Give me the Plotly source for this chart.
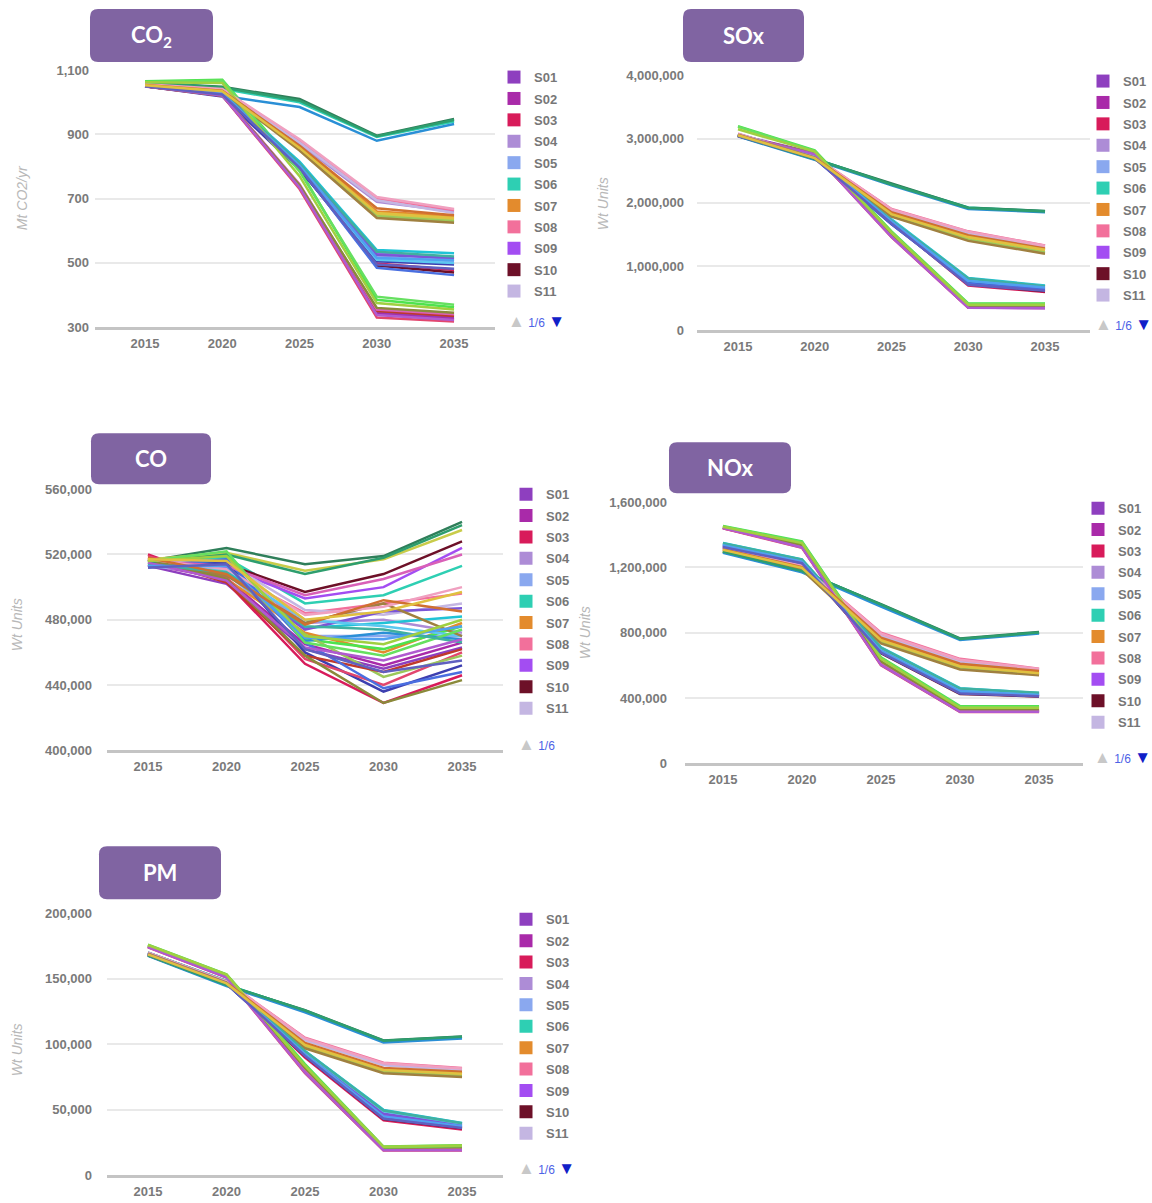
import plotly.graph_objects as go

W, H = 1152, 1203

YEARS = [2015, 2020, 2025, 2030, 2035]

SCENARIOS = ["S01", "S02", "S03", "S04", "S05", "S06", "S07", "S08", "S09", "S10",
             "S11", "S12", "S13", "S14", "S15", "S16", "S17", "S18", "S19", "S20",
             "S21", "S22", "S23", "S24", "S25", "S26", "S27", "S28", "S29", "S30",
             "S31", "S32", "S33", "S34", "S35", "S36"]

LEGEND_NAMES = ["S01", "S02", "S03", "S04", "S05", "S06", "S07", "S08", "S09", "S10", "S11"]

CO2_VALUES = [
    [1052, 1025, 740, 345, 330],
    [1050, 1022, 735, 340, 325],
    [1054, 1030, 800, 498, 478],
    [1055, 1038, 870, 690, 660],
    [1053, 1028, 805, 520, 505],
    [1052, 1042, 1000, 892, 940],
    [1054, 1036, 862, 660, 645],
    [1056, 1040, 880, 700, 665],
    [1052, 1032, 812, 530, 512],
    [1051, 1026, 795, 492, 470],
    [1055, 1037, 875, 695, 655],
    [1060, 1048, 1010, 896, 948],
    [1065, 1070, 790, 385, 362],
    [1050, 1020, 985, 880, 932],
    [1050, 1018, 790, 505, 495],
    [1053, 1034, 855, 650, 635],
    [1049, 1020, 730, 330, 318],
    [1052, 1030, 815, 540, 530],
    [1053, 1031, 808, 525, 515],
    [1054, 1035, 858, 645, 630],
    [1050, 1022, 738, 350, 335],
    [1051, 1029, 802, 510, 500],
    [1052, 1033, 850, 640, 625],
    [1050, 1025, 798, 485, 462],
    [1051, 1023, 745, 355, 340],
    [1062, 1046, 1005, 894, 945],
    [1050, 1021, 742, 360, 345],
    [1063, 1068, 785, 395, 370],
    [1052, 1029, 810, 535, 520],
    [1056, 1041, 885, 705, 668],
    [1050, 1021, 735, 338, 322],
    [1051, 1027, 803, 515, 508],
    [1062, 1060, 770, 375, 355],
    [1054, 1036, 865, 670, 648],
    [1050, 1024, 796, 495, 482],
    [1053, 1034, 858, 655, 640],
]

SOX_VALUES = [
    [3060000, 2780000, 1480000, 360000, 350000],
    [3055000, 2770000, 1470000, 355000, 345000],
    [3065000, 2720000, 1690000, 700000, 600000],
    [3075000, 2700000, 1880000, 1530000, 1320000],
    [3070000, 2710000, 1720000, 800000, 680000],
    [3050000, 2690000, 2290000, 1925000, 1865000],
    [3065000, 2705000, 1830000, 1470000, 1270000],
    [3080000, 2720000, 1900000, 1550000, 1330000],
    [3060000, 2715000, 1700000, 760000, 650000],
    [3055000, 2705000, 1680000, 720000, 610000],
    [3070000, 2710000, 1870000, 1520000, 1300000],
    [3045000, 2680000, 2300000, 1920000, 1870000],
    [3200000, 2820000, 1550000, 420000, 420000],
    [3040000, 2670000, 2270000, 1900000, 1850000],
    [3050000, 2690000, 1660000, 740000, 640000],
    [3060000, 2700000, 1800000, 1450000, 1250000],
    [3050000, 2760000, 1460000, 350000, 350000],
    [3075000, 2725000, 1740000, 820000, 700000],
    [3060000, 2715000, 1710000, 780000, 660000],
    [3055000, 2695000, 1790000, 1420000, 1220000],
    [3045000, 2750000, 1500000, 370000, 360000],
    [3065000, 2720000, 1730000, 790000, 690000],
    [3050000, 2690000, 1780000, 1400000, 1200000],
    [3045000, 2700000, 1670000, 730000, 630000],
    [3055000, 2765000, 1490000, 365000, 355000],
    [3048000, 2685000, 2285000, 1915000, 1860000],
    [3050000, 2770000, 1510000, 380000, 370000],
    [3190000, 2810000, 1540000, 410000, 410000],
    [3068000, 2718000, 1725000, 810000, 690000],
    [3078000, 2718000, 1895000, 1545000, 1325000],
    [3050000, 2760000, 1465000, 352000, 348000],
    [3060000, 2712000, 1705000, 770000, 670000],
    [3150000, 2800000, 1530000, 400000, 400000],
    [3065000, 2705000, 1850000, 1490000, 1280000],
    [3050000, 2700000, 1675000, 710000, 620000],
    [3058000, 2698000, 1820000, 1460000, 1260000],
]

CO_VALUES = [
    [513000, 502000, 462000, 450000, 463000],
    [514000, 505000, 465000, 452000, 466000],
    [520000, 503000, 453000, 429000, 446000],
    [515000, 512000, 478000, 480000, 472000],
    [513000, 508000, 470000, 470000, 470000],
    [516000, 518000, 490000, 495000, 513000],
    [517000, 505000, 472000, 460000, 478000],
    [518000, 510000, 484000, 490000, 496000],
    [514000, 512000, 493000, 500000, 524000],
    [515000, 514000, 497000, 508000, 528000],
    [516000, 515000, 486000, 483000, 490000],
    [516000, 524000, 514000, 519000, 540000],
    [515000, 521000, 468000, 462000, 476000],
    [513000, 516000, 467000, 472000, 468000],
    [512000, 515000, 460000, 436000, 452000],
    [517000, 521000, 510000, 517000, 535000],
    [519000, 506000, 456000, 440000, 460000],
    [515000, 510000, 475000, 478000, 482000],
    [514000, 508000, 474000, 485000, 487000],
    [516000, 509000, 471000, 445000, 458000],
    [517000, 503000, 458000, 448000, 462000],
    [514000, 511000, 480000, 476000, 470000],
    [516000, 507000, 478000, 490000, 470000],
    [513000, 517000, 466000, 438000, 448000],
    [516000, 513000, 495000, 505000, 520000],
    [515000, 520000, 508000, 518000, 538000],
    [517000, 505000, 458000, 429000, 443000],
    [516000, 522000, 466000, 458000, 474000],
    [514000, 509000, 476000, 474000, 466000],
    [517000, 511000, 483000, 488000, 500000],
    [515000, 504000, 463000, 455000, 468000],
    [513000, 513000, 469000, 468000, 476000],
    [516000, 519000, 470000, 465000, 480000],
    [518000, 508000, 477000, 492000, 485000],
    [512000, 514000, 462000, 448000, 455000],
    [517000, 516000, 480000, 485000, 497000],
]

NOX_VALUES = [
    [1440000, 1330000, 610000, 320000, 320000],
    [1445000, 1325000, 605000, 318000, 318000],
    [1330000, 1230000, 680000, 430000, 410000],
    [1320000, 1210000, 790000, 630000, 575000],
    [1345000, 1245000, 700000, 450000, 425000],
    [1300000, 1180000, 970000, 760000, 800000],
    [1310000, 1200000, 760000, 600000, 560000],
    [1325000, 1215000, 800000, 640000, 580000],
    [1340000, 1240000, 690000, 445000, 420000],
    [1320000, 1225000, 675000, 425000, 410000],
    [1315000, 1205000, 780000, 620000, 570000],
    [1295000, 1175000, 975000, 765000, 805000],
    [1455000, 1360000, 650000, 350000, 350000],
    [1290000, 1170000, 960000, 755000, 795000],
    [1335000, 1235000, 685000, 440000, 415000],
    [1305000, 1195000, 750000, 590000, 550000],
    [1440000, 1320000, 600000, 315000, 315000],
    [1350000, 1250000, 710000, 460000, 430000],
    [1338000, 1238000, 695000, 448000, 422000],
    [1300000, 1190000, 740000, 580000, 545000],
    [1445000, 1335000, 620000, 325000, 325000],
    [1342000, 1242000, 705000, 455000, 428000],
    [1300000, 1185000, 735000, 575000, 540000],
    [1328000, 1228000, 680000, 435000, 412000],
    [1442000, 1328000, 615000, 322000, 322000],
    [1298000, 1178000, 972000, 762000, 802000],
    [1446000, 1338000, 625000, 330000, 330000],
    [1452000, 1355000, 645000, 345000, 345000],
    [1348000, 1248000, 708000, 458000, 432000],
    [1322000, 1212000, 795000, 635000, 578000],
    [1443000, 1323000, 603000, 316000, 316000],
    [1336000, 1236000, 688000, 442000, 418000],
    [1450000, 1350000, 640000, 340000, 340000],
    [1312000, 1202000, 770000, 610000, 565000],
    [1325000, 1226000, 678000, 428000, 411000],
    [1308000, 1198000, 755000, 595000, 552000],
]

PM_VALUES = [
    [175000, 152000, 80000, 20000, 20000],
    [174500, 151500, 79000, 19500, 19500],
    [169000, 147000, 90000, 42000, 35000],
    [169500, 147500, 104000, 85000, 81000],
    [170000, 148000, 94000, 48000, 39000],
    [168000, 145500, 125500, 102500, 105500],
    [169000, 147000, 100000, 81000, 78000],
    [170000, 148000, 105000, 86000, 82000],
    [169500, 147500, 93000, 46000, 38000],
    [168500, 146500, 91000, 43000, 36000],
    [169500, 147500, 103000, 84000, 80000],
    [168000, 145000, 126000, 103000, 106000],
    [176000, 153500, 85000, 22000, 23000],
    [167500, 144500, 124500, 101500, 104500],
    [168500, 146000, 92000, 44000, 37000],
    [168500, 146500, 99000, 80000, 77000],
    [174000, 151000, 78000, 19000, 19000],
    [170000, 148500, 95000, 50000, 40000],
    [169000, 147000, 93500, 47000, 38500],
    [168500, 146000, 98000, 79000, 76000],
    [175000, 152500, 81000, 20500, 20500],
    [169500, 147500, 94500, 49000, 39500],
    [168000, 146000, 97000, 78000, 75000],
    [168500, 146500, 91500, 43500, 36500],
    [174500, 152000, 80500, 20000, 20000],
    [168000, 145200, 125800, 102800, 105800],
    [175000, 152800, 82000, 21000, 21500],
    [175500, 153000, 84000, 21500, 22500],
    [170000, 148200, 94800, 49500, 39800],
    [170000, 148000, 104500, 85500, 81500],
    [174200, 151200, 78500, 19200, 19200],
    [169200, 147200, 92500, 45000, 37500],
    [175800, 153200, 83500, 21800, 22800],
    [169200, 147200, 101000, 82000, 79000],
    [168700, 146700, 91200, 43200, 36200],
    [168700, 146500, 99500, 80500, 77500],
]

PANEL_TITLES = ["CO<sub>2</sub>", "SOx", "CO", "NOx", "PM"]
AXIS_TITLES = ["Mt CO2/yr", "Wt Units", "Wt Units", "Wt Units", "Wt Units"]
PAGE_LABEL = "1/6"

# ---------------- styles ----------------
COLORS = {
    "S01": "#8e3fbf", "S02": "#a92aa9", "S03": "#d81b5a", "S04": "#ad8cd6",
    "S05": "#8aa8ef", "S06": "#2ecfb3", "S07": "#e38b2d", "S08": "#f2709b",
    "S09": "#a34df2", "S10": "#6d1028", "S11": "#c4b6e2", "S12": "#2f7f5a",
    "S13": "#4ee34e", "S14": "#2a8fd6", "S15": "#3d3fb0", "S16": "#c9cc4a",
    "S17": "#e2466e", "S18": "#1fc3d6", "S19": "#7b55d6", "S20": "#9bc85a",
    "S21": "#c0392b", "S22": "#5cc8f0", "S23": "#a08040", "S24": "#4a6fe0",
    "S25": "#d960b8", "S26": "#2e9e6e", "S27": "#8a8a3a", "S28": "#66e060",
    "S29": "#40b0a0", "S30": "#f0a0c0", "S31": "#b05ad0", "S32": "#50a0f0",
    "S33": "#a0d040", "S34": "#d07030", "S35": "#6060c0", "S36": "#e0c040",
}

# geometry in pixels: plot box, x range, y range, tick step, badge box, legend, axis title pos
PANELS = [
    dict(values=CO2_VALUES, box=(95, 70, 495, 327), xr=(2011.76, 2037.65), yr=(300, 1100), dt=200,
         badge=(90, 9, 213, 62), leg=(494, 62), page=(506, 321), ytitle=(22, 198), stand=5, full_arrow=True),
    dict(values=SOX_VALUES, box=(697, 75, 1090, 330), xr=(2012.33, 2037.93), yr=(0, 4000000), dt=1000000,
         badge=(683, 9, 804, 62), leg=(1083, 66), page=(1093, 324), ytitle=(603, 204), stand=12, full_arrow=True),
    dict(values=CO_VALUES, box=(107, 489, 503, 750), xr=(2012.39, 2037.61), yr=(400000, 560000), dt=40000,
         badge=(91, 433, 211, 484), leg=(506, 479), page=(516, 744), ytitle=(17, 625), stand=14, full_arrow=False),
    dict(values=NOX_VALUES, box=(685, 502, 1083, 763), xr=(2012.6, 2037.78), yr=(0, 1600000), dt=400000,
         badge=(669, 442, 791, 493), leg=(1078, 493), page=(1092, 757), ytitle=(585, 633), stand=17, full_arrow=True),
    dict(values=PM_VALUES, box=(107, 913, 503, 1175), xr=(2012.39, 2037.61), yr=(0, 200000), dt=50000,
         badge=(99, 846, 221, 899), leg=(506, 904), page=(516, 1168), ytitle=(17, 1050), stand=14, full_arrow=True),
]

# the page photograph maps figure rows as  shown = 0.9873 * row + 6.9 ; undo that here
Y_SCALE, Y_OFF = 0.9873, 6.9


def px(x):
    return x / W


def py(y):
    return 1 - ((y - Y_OFF) / Y_SCALE) / H


def rounded_path(x0, y0, x1, y1, r):
    pts = [
        ("M", [(x0 + r, y0)]), ("L", [(x1 - r, y0)]), ("Q", [(x1, y0), (x1, y0 + r)]),
        ("L", [(x1, y1 - r)]), ("Q", [(x1, y1), (x1 - r, y1)]), ("L", [(x0 + r, y1)]),
        ("Q", [(x0, y1), (x0, y1 - r)]), ("L", [(x0, y0 + r)]), ("Q", [(x0, y0), (x0 + r, y0)]),
    ]
    s = ""
    for cmd, ps in pts:
        s += cmd + " " + " ".join(f"{px(a):.5f},{py(b):.5f}" for a, b in ps) + " "
    return s + "Z"


fig = go.Figure()
shapes, annotations = [], []
FONT = "Liberation Sans, Arial, sans-serif"

for i, p in enumerate(PANELS):
    n = i + 1
    xa = "x" if n == 1 else f"x{n}"
    ya = "y" if n == 1 else f"y{n}"
    lg = "legend" if n == 1 else f"legend{n}"
    for name, vals in zip(SCENARIOS, p["values"]):
        fig.add_trace(go.Scatter(x=YEARS, y=vals, mode="lines", name=name,
                                 line=dict(color=COLORS[name], width=2.5),
                                 xaxis=xa, yaxis=ya, showlegend=False, hoverinfo="skip"))
    for name in LEGEND_NAMES:
        fig.add_trace(go.Scatter(x=[None], y=[None], mode="markers", name=name,
                                 marker=dict(symbol="square", size=13, color=COLORS[name]),
                                 xaxis=xa, yaxis=ya, legend=lg, legendgroup=f"{n}{name}",
                                 showlegend=True))
    bx0, by0, bx1, by1 = p["box"]
    fig.update_layout(**{
        ("xaxis" if n == 1 else f"xaxis{n}"): dict(
            domain=[px(bx0), px(bx1)], anchor=ya, range=list(p["xr"]),
            tickvals=YEARS, ticktext=[str(v) for v in YEARS], showgrid=False, zeroline=False,
            showline=True, linecolor="#c4c4c4", linewidth=3, ticks="",
            tickfont=dict(family=FONT, size=13, color="#7a7a7a", weight="bold"),
            ticklabelstandoff=2, fixedrange=True),
        ("yaxis" if n == 1 else f"yaxis{n}"): dict(
            domain=[py(by1), py(by0)], anchor=xa, range=list(p["yr"]),
            tick0=p["yr"][0], dtick=p["dt"], tickformat=",d", showgrid=True,
            gridcolor="#e9e9e9", gridwidth=2, zeroline=False, showline=False, ticks="",
            tickfont=dict(family=FONT, size=13, color="#7a7a7a", weight="bold"),
            ticklabelstandoff=p["stand"], fixedrange=True),
        lg: dict(x=px(p["leg"][0]), y=py(p["leg"][1]), xanchor="left", yanchor="top",
                 bgcolor="rgba(0,0,0,0)", traceorder="grouped", tracegroupgap=1.5,
                 font=dict(family=FONT, size=13, color="#777777", weight="bold"),
                 itemclick=False, itemdoubleclick=False),
    })
    # badge
    x0, y0, x1, y1 = p["badge"]
    shapes.append(dict(type="path", path=rounded_path(x0, y0, x1, y1, 8), xref="paper", yref="paper",
                       fillcolor="#8064a2", line=dict(width=0), layer="above"))
    annotations.append(dict(text=f"<b>{PANEL_TITLES[i]}</b>", x=px((x0 + x1) / 2), y=py((y0 + y1) / 2),
                            xref="paper", yref="paper", showarrow=False,
                            font=dict(family="Lato, Open Sans, sans-serif", size=22, color="white"),
                            xanchor="center", yanchor="middle"))
    # y-axis title
    tx, ty = p["ytitle"]
    annotations.append(dict(text=f"<i>{AXIS_TITLES[i]}</i>", x=px(tx), y=py(ty), xref="paper", yref="paper",
                            showarrow=False, textangle=-90, xanchor="center", yanchor="middle",
                            font=dict(family=FONT, size=14, color="#b8b8b8")))
    # pagination
    qx, qy = p["page"]
    pg = ('<span style="color:#c8c8c8;font-size:17px">▲</span> '
          f'<span style="color:#4d62e6">{PAGE_LABEL}</span>')
    if p["full_arrow"]:
        pg += ' <span style="color:#1020c8;font-size:17px">▼</span>'
    annotations.append(dict(text=pg, x=px(qx), y=py(qy), xref="paper", yref="paper", showarrow=False,
                            xanchor="left", yanchor="middle",
                            font=dict(family=FONT, size=12, color="#4d62e6")))

fig.update_layout(width=W, height=H, margin=dict(l=0, r=0, t=0, b=0),
                  paper_bgcolor="white", plot_bgcolor="white",
                  shapes=shapes, annotations=annotations, hovermode=False)

fig.write_html("out.html", config={"displayModeBar": False},
               post_script=("document.documentElement.style.margin='0';"
                            "document.documentElement.style.padding='0';"
                            "document.documentElement.style.overflow='hidden';"
                            "document.body.style.margin='0';"
                            "document.body.style.padding='0';"
                            "document.body.style.overflow='hidden';"
                            "document.body.style.height='1203px';"))
